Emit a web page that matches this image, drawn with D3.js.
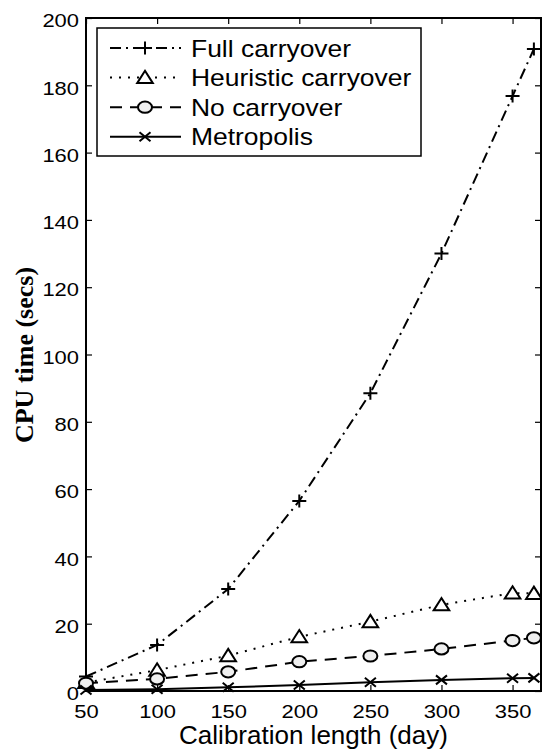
<!DOCTYPE html>
<html lang="en">
<head>
  <meta charset="UTF-8">
  <title>CPU time vs calibration length</title>
  <script src="https://d3js.org/d3.v7.min.js"></script>
  <style>
    body { margin: 0; background: #fff; }
    text { font-family: "Liberation Sans", Arial, Helvetica, sans-serif; fill: #000; }
  </style>
</head>
<body>
  <script>
    // data
    const days = [50, 100, 150, 200, 250, 300, 350, 365];
    const fullCarry = [4.3, 13.7, 30.3, 56.5, 88.5, 130, 176.8, 190.8];
    const heurCarry = [2.5, 6.2, 10.5, 16.1, 20.6, 25.6, 29.1, 29.0];
    const noCarry = [2.3, 3.6, 5.7, 8.7, 10.4, 12.5, 15.0, 15.8];
    const metropolis = [0.3, 0.5, 1.1, 1.8, 2.6, 3.3, 3.8, 3.9];
    const seriesNames = ["Full carryover", "Heuristic carryover", "No carryover", "Metropolis"];
    const xTicks = [50, 100, 150, 200, 250, 300, 350];
    const yTicks = [0, 20, 40, 60, 80, 100, 120, 140, 160, 180, 200];

    const width = 542, height = 749;
    const plotL = 86, plotR = 541, plotT = 18, plotB = 691;
    const sx = 1.22; // the original figure is stretched sideways

    const svg = d3.select("body").append("svg")
      .attr("width", width)
      .attr("height", height);

    const x = d3.scaleLinear().domain([50, 370]).range([plotL, plotR]);
    const y = d3.scaleLinear().domain([0, 200]).range([plotB, plotT]);

    // axes with inward ticks
    const gx = svg.append("g").attr("transform", `translate(0,${plotB})`)
      .call(d3.axisBottom(x).tickValues(xTicks).tickSizeInner(-6).tickSizeOuter(0));
    gx.selectAll("text")
      .attr("y", 27).attr("dy", null)
      .attr("transform", `scale(${sx},1)`)
      .style("font-size", "18px");

    const gy = svg.append("g").attr("transform", `translate(${plotL},0)`)
      .call(d3.axisLeft(y).tickValues(yTicks).tickSizeInner(-6).tickSizeOuter(0));
    gy.selectAll("text")
      .attr("x", -7 / sx).attr("dy", 8.7)
      .attr("transform", `scale(${sx},1)`)
      .style("font-size", "18px");

    svg.append("g").attr("transform", `translate(0,${plotT})`)
      .call(d3.axisTop(x).tickValues(xTicks).tickSizeInner(-6).tickSizeOuter(0).tickFormat(""));
    svg.append("g").attr("transform", `translate(${plotR},0)`)
      .call(d3.axisRight(y).tickValues(yTicks).tickSizeInner(-6).tickSizeOuter(0).tickFormat(""));

    svg.selectAll(".domain").remove();
    svg.selectAll(".tick line").attr("stroke", "#000").attr("stroke-width", 1.2);

    svg.append("rect")
      .attr("x", plotL).attr("y", plotT)
      .attr("width", plotR - plotL).attr("height", plotB - plotT)
      .attr("fill", "none").attr("stroke", "#000").attr("stroke-width", 2);

    // markers
    function drawMarker(g, type, cx, cy) {
      if (type === "plus") {
        g.append("path")
          .attr("d", `M${cx - 7},${cy}H${cx + 7}M${cx},${cy - 6.5}V${cy + 6.5}`)
          .attr("stroke", "#000").attr("stroke-width", 2).attr("fill", "none");
      } else if (type === "tri") {
        g.append("path")
          .attr("d", `M${cx},${cy - 6.8}L${cx + 7.8},${cy + 5.5}L${cx - 7.8},${cy + 5.5}Z`)
          .attr("stroke", "#000").attr("stroke-width", 2).attr("fill", "#fff");
      } else if (type === "circle") {
        g.append("ellipse")
          .attr("cx", cx).attr("cy", cy).attr("rx", 7).attr("ry", 5.6)
          .attr("stroke", "#000").attr("stroke-width", 2).attr("fill", "#efefef");
      } else {
        g.append("path")
          .attr("d", `M${cx - 5.5},${cy - 4.5}L${cx + 5.5},${cy + 4.5}M${cx - 5.5},${cy + 4.5}L${cx + 5.5},${cy - 4.5}`)
          .attr("stroke", "#000").attr("stroke-width", 2).attr("fill", "none");
      }
    }

    const series = [
      { name: seriesNames[0], values: fullCarry, dash: "11,5,2,5", marker: "plus" },
      { name: seriesNames[1], values: heurCarry, dash: "2,7", marker: "tri" },
      { name: seriesNames[2], values: noCarry, dash: "12,8", marker: "circle" },
      { name: seriesNames[3], values: metropolis, dash: null, marker: "x" }
    ];

    const line = d3.line()
      .x(d => x(d[0]))
      .y(d => y(d[1]));

    series.forEach(s => {
      const pts = days.map((d, i) => [d, s.values[i]]);
      const g = svg.append("g");
      g.append("path")
        .datum(pts)
        .attr("d", line)
        .attr("fill", "none")
        .attr("stroke", "#000")
        .attr("stroke-width", 2)
        .attr("stroke-dasharray", s.dash);
      pts.forEach(p => drawMarker(g, s.marker, x(p[0]), y(p[1])));
    });

    // legend
    const legend = svg.append("g");
    legend.append("rect")
      .attr("x", 97).attr("y", 28).attr("width", 324).attr("height", 128)
      .attr("fill", "#fff").attr("stroke", "#000").attr("stroke-width", 1.5);

    series.forEach((s, i) => {
      const cy = 48 + i * 29.6;
      const row = legend.append("g");
      row.append("path")
        .attr("d", `M110,${cy}H181`)
        .attr("stroke", "#000").attr("stroke-width", 2).attr("fill", "none")
        .attr("stroke-dasharray", s.dash);
      drawMarker(row, s.marker, 145, cy);
      row.append("g")
        .attr("transform", `translate(191,${cy + 8.5})`)
        .append("text")
        .attr("transform", "scale(1.15,1)")
        .style("font-size", "23px")
        .text(s.name);
    });

    // axis titles
    svg.append("text")
      .attr("x", (plotL + plotR) / 2).attr("y", 744)
      .attr("text-anchor", "middle")
      .style("font-size", "26px")
      .text("Calibration length (day)");

    svg.append("text")
      .attr("transform", "translate(33,355) rotate(-90)")
      .attr("text-anchor", "middle")
      .style("font-family", "'Liberation Serif', 'Times New Roman', serif")
      .style("font-weight", "bold")
      .style("font-size", "26px")
      .text("CPU time (secs)");
  </script>
</body>
</html>
